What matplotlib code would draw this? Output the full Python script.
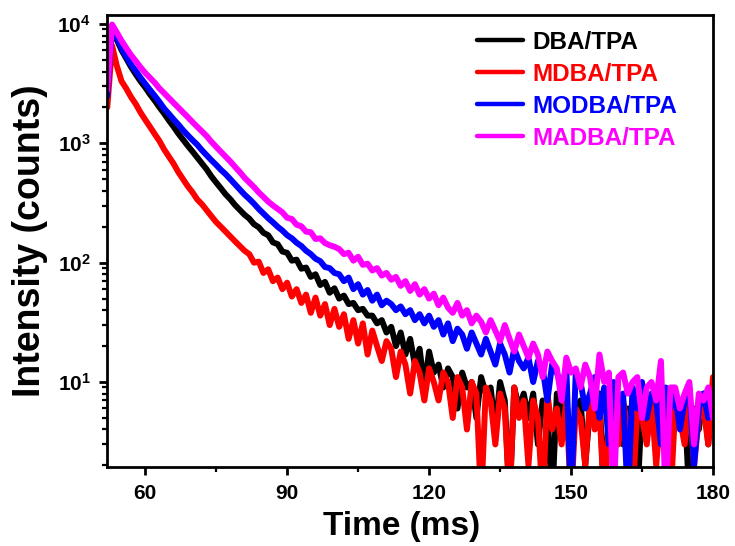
import numpy as np
import matplotlib
matplotlib.use("Agg")
import matplotlib.pyplot as plt
from matplotlib.ticker import FixedLocator, FixedFormatter, LogLocator, NullFormatter, MultipleLocator

plt.rcParams['font.family'] = ['Liberation Sans', 'DejaVu Sans']
plt.rcParams['font.weight'] = 'bold'
plt.rcParams['mathtext.fontset'] = 'custom'
plt.rcParams['mathtext.bf'] = 'Liberation Sans:bold'
plt.rcParams['mathtext.rm'] = 'Liberation Sans:bold'
plt.rcParams['mathtext.it'] = 'Liberation Sans:bold'

# time grid (ms)
time = np.arange(52, 181)

labels = ["DBA/TPA", "MDBA/TPA", "MODBA/TPA", "MADBA/TPA"]
colors = ["#000000", "#ff0000", "#0000ff", "#ff00ff"]

dba = [2500, 9300, 7400, 6050, 5150, 4380, 3800, 3320, 2950, 2580,
       2290, 2010, 1780, 1560, 1380, 1210, 1075, 955, 855, 762,
       680, 605, 528, 470, 420, 374, 340, 304, 277, 252,
       234, 210, 198, 178, 170, 148, 143, 124, 121, 104,
       106, 89, 91, 76, 80, 65, 69, 56, 61, 50,
       53, 45, 46, 40, 41, 36, 36, 31, 33, 26,
       29, 20, 26, 17, 23, 14, 19, 9, 18, 12,
       14, 9, 13, 11, 6, 12, 9, 10, 5, 11,
       8, 9, 4, 10, 7, 1, 9, 6, 8, 5,
       8, 3, 7, 6, 1, 8, 5, 7, 3, 6,
       7, 2, 6, 5, 8, 1, 6, 4, 7, 3,
       6, 5, 1, 7, 4, 6, 3, 7, 5, 2,
       6, 5, 7, 1, 6, 4, 8, 3, 10]

mdba = [2000, 6600, 4480, 3320, 2880, 2450, 2140, 1820, 1580, 1380,
        1200, 1050, 890, 776, 676, 575, 501, 437, 389, 339,
        309, 275, 245, 219, 200, 182, 166, 151, 138, 126,
        118, 100, 102, 82, 88, 70, 75, 60, 68, 52,
        60, 46, 54, 38, 51, 36, 45, 30, 41, 29,
        37, 23, 33, 21, 31, 17, 27, 20, 15, 22,
        19, 11, 18, 14, 8, 15, 12, 7, 13, 10,
        7, 12, 10, 5, 11, 9, 4, 10, 8, 1,
        9, 7, 3, 8, 6, 1, 9, 5, 7, 2,
        7, 5, 1, 8, 4, 6, 3, 7, 1, 6,
        5, 2, 7, 4, 6, 1, 5, 6, 3, 7,
        4, 1, 6, 5, 3, 7, 2, 6, 4, 1,
        6, 5, 3, 7, 2, 5, 6, 3, 11]

modba = [2500, 9500, 7750, 6300, 5350, 4580, 4060, 3560, 3160, 2810,
         2510, 2230, 1960, 1770, 1590, 1440, 1290, 1170, 1065, 975,
         875, 795, 722, 660, 600, 552, 500, 452, 410, 372,
         342, 312, 282, 258, 236, 218, 200, 186, 170, 160,
         147, 138, 126, 118, 108, 103, 92, 90, 82, 80,
         70, 75, 60, 66, 54, 59, 48, 54, 44, 48,
         45, 40, 43, 37, 40, 33, 37, 31, 36, 29,
         33, 25, 31, 22, 28, 25, 19, 26, 21, 17,
         23, 18, 14, 21, 17, 12, 19, 15, 13, 16,
         10, 15, 13, 7, 14, 12, 9, 13, 1, 12,
         10, 6, 8, 11, 5, 9, 3, 10, 7, 8,
         1, 9, 6, 10, 5, 8, 7, 3, 9, 6,
         8, 4, 7, 9, 2, 6, 8, 5, 7]

madba = [2800, 9900, 8500, 7250, 6300, 5500, 4900, 4350, 3900, 3550,
         3230, 2890, 2640, 2400, 2190, 2000, 1820, 1660, 1510, 1380,
         1260, 1150, 1030, 935, 850, 775, 705, 635, 575, 515,
         470, 430, 388, 356, 325, 302, 282, 264, 238, 232,
         208, 202, 182, 180, 158, 160, 146, 140, 136, 130,
         118, 121, 104, 112, 96, 98, 86, 90, 78, 82,
         72, 76, 64, 70, 58, 66, 54, 60, 50, 55,
         44, 51, 42, 38, 46, 36, 40, 31, 36, 32,
         26, 33, 27, 22, 30, 23, 18, 25, 20, 16,
         21, 17, 11, 18, 15, 13, 7, 16, 12, 13,
         9, 14, 11, 6, 17, 10, 12, 1, 11, 12,
         8, 10, 11, 5, 9, 10, 7, 15, 1, 9,
         9, 6, 8, 10, 3, 8, 7, 9, 5]

x_ticks = [60, 90, 120, 150, 180]
x_tick_labels = ["60", "90", "120", "150", "180"]
y_ticks = [10, 100, 1000, 10000]
y_tick_labels = [r"$\mathbf{10^{1}}$", r"$\mathbf{10^{2}}$", r"$\mathbf{10^{3}}$", r"$\mathbf{10^{4}}$"]

fig = plt.figure(figsize=(7.35, 5.46), dpi=100)
ax = fig.add_axes([107.3 / 735, (546 - 467) / 546, (713 - 107.3) / 735, (467 - 15) / 546])

series = [dba, mdba, modba, madba]
for vals, lab, col in zip(series, labels, colors):
    ax.plot(time, vals, color=col, lw=4.3, label=lab, solid_joinstyle='round', solid_capstyle='round')

ax.set_yscale('log')
ax.set_xlim(52, 180)
ax.set_ylim(1.94, 11900)

ax.xaxis.set_major_locator(FixedLocator(x_ticks))
ax.xaxis.set_major_formatter(FixedFormatter(x_tick_labels))
ax.xaxis.set_minor_locator(MultipleLocator(15))
ax.yaxis.set_major_locator(FixedLocator(y_ticks))
ax.yaxis.set_major_formatter(FixedFormatter(y_tick_labels))
ax.yaxis.set_minor_locator(LogLocator(base=10, subs=np.arange(2, 10), numticks=20))
ax.yaxis.set_minor_formatter(NullFormatter())

for s in ax.spines.values():
    s.set_linewidth(2.0)
ax.tick_params(axis='both', which='major', direction='out', length=6, width=2.0, labelsize=15, pad=6)
ax.tick_params(axis='both', which='minor', direction='out', length=3.5, width=1.6)
ax.tick_params(axis='x', which='both', top=False)
ax.tick_params(axis='y', which='both', right=False)

ax.set_xlabel("Time (ms)", fontsize=24, fontweight='bold')
ax.xaxis.set_label_coords((401.7 - 107.3) / 605.7, (467 - 527) / 452)
ax.xaxis.label.set_va('center')
ax.set_ylabel("Intensity (counts)", fontsize=27, fontweight='bold')
ax.yaxis.set_label_coords((30 - 107.3) / 605.7, 0.5)
ax.yaxis.label.set_va('center')
ax.yaxis.label.set_ha('center')

leg = ax.legend(loc='upper left', bbox_to_anchor=(477 / 735, (546 - 31) / 546),
                bbox_transform=fig.transFigure, frameon=False,
                handlelength=1.9, handletextpad=0.36, labelspacing=0.37,
                borderpad=0, borderaxespad=0, prop={'weight': 'bold', 'size': 17.5})
for txt, col in zip(leg.get_texts(), colors):
    txt.set_color(col)
for h in leg.get_lines():
    h.set_linewidth(3.2)

fig.savefig("out.png", dpi=100)
